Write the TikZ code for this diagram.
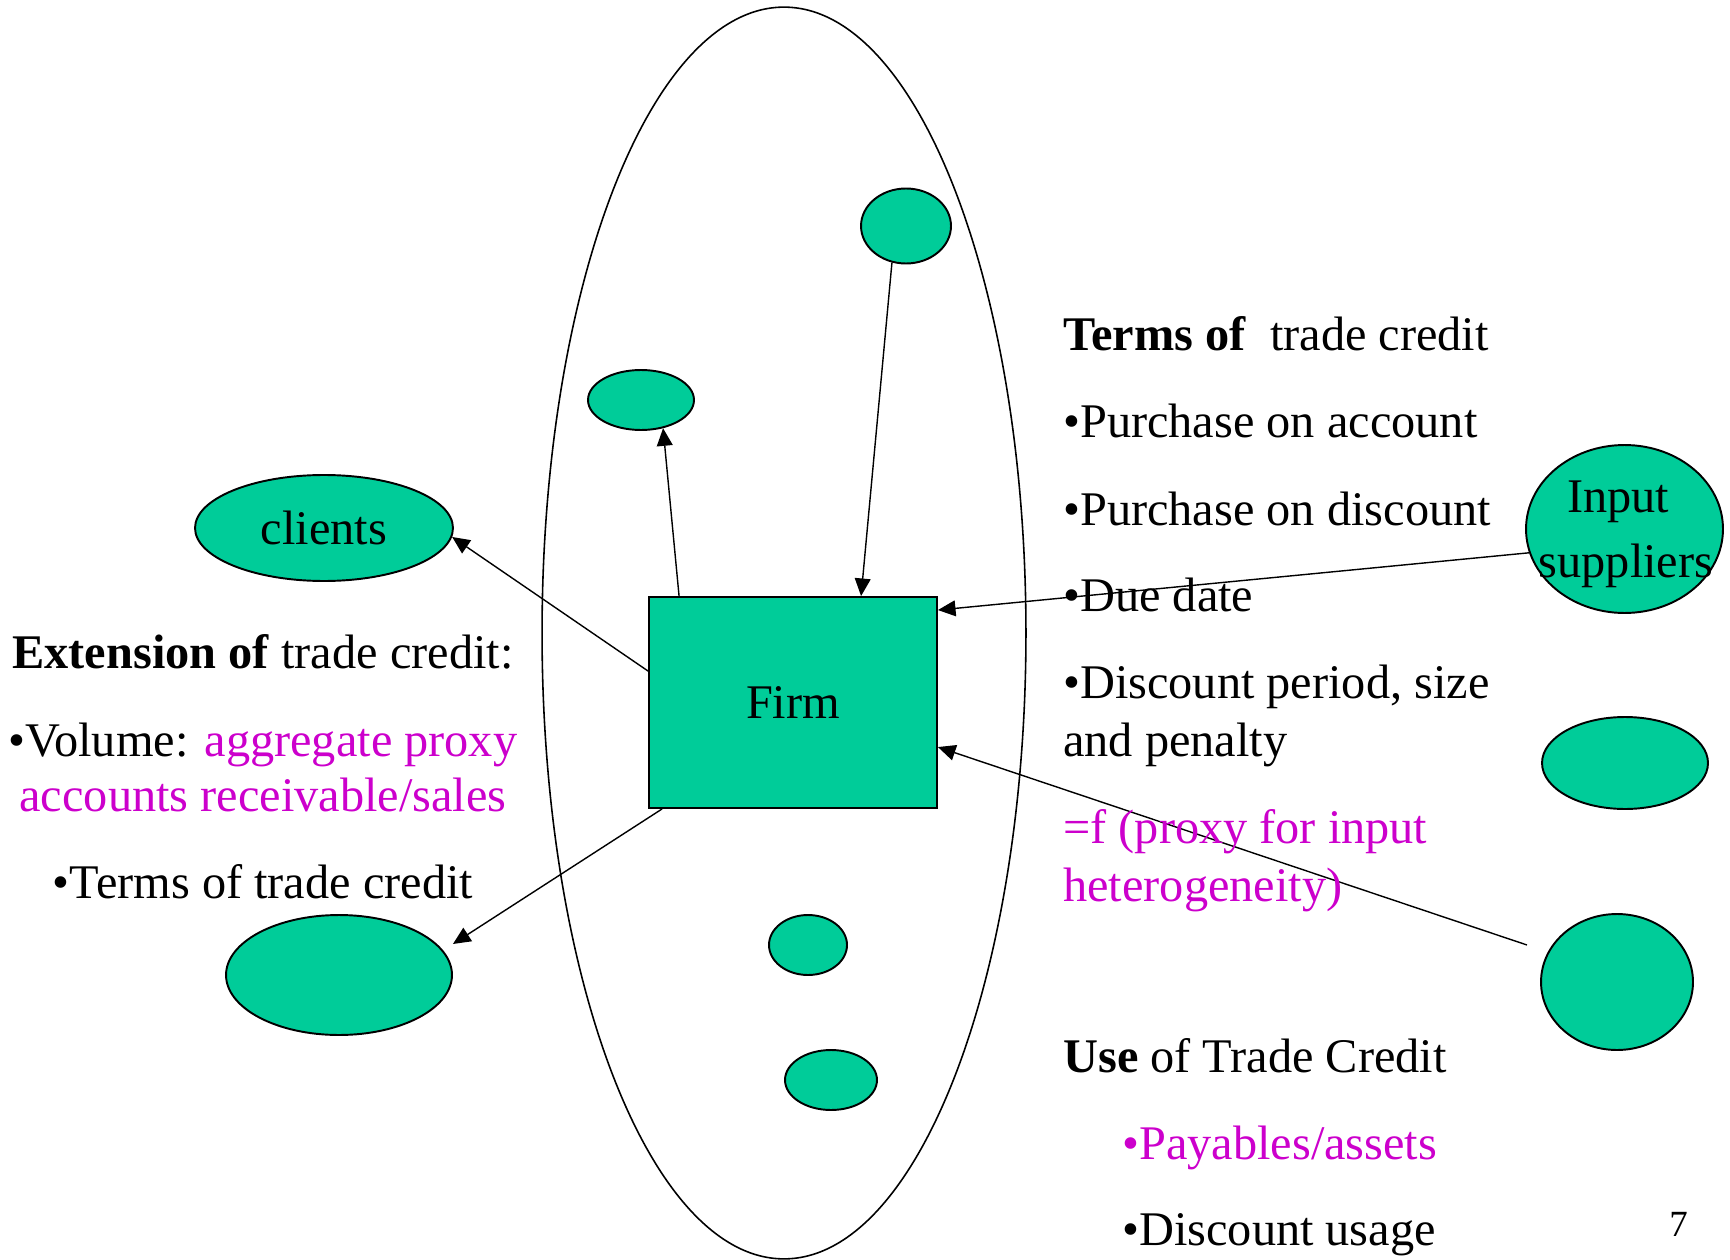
\documentclass[tikz,border=0pt]{standalone}
\usepackage{fontspec}
\setmainfont{Liberation Serif}
\usetikzlibrary{shapes.geometric, arrows.meta, calc}

\definecolor{firmgreen}{RGB}{0,204,153}
\definecolor{proxypink}{RGB}{204,0,204}

\begin{document}
\begin{tikzpicture}[
    x=0.02cm, y=-0.02cm,
    every node/.style={font=\fontsize{27.5}{33}\selectfont},
    blob/.style={ellipse, draw, line width=1.1pt, fill=firmgreen, inner sep=0pt},
    firmbox/.style={rectangle, draw, line width=1.1pt, fill=firmgreen, inner sep=0pt, minimum width=5.76cm, minimum height=4.22cm},
    txt/.style={anchor=base west, inner sep=0pt},
    ctxt/.style={anchor=base, inner sep=0pt},
    arrow/.style={line width=0.8pt, -{Triangle[length=10pt,width=9pt]}}
]
\useasboundingbox (0,0) rectangle (1730,1260);

% the market around the firm
\node (market) [ellipse, draw, line width=0.9pt, inner sep=0pt, minimum width=9.68cm, minimum height=25.04cm] at (784,633) {};

\node (firm) [firmbox] at (793,702.5) {Firm};
\node (topdot) [blob, minimum width=1.8cm, minimum height=1.5cm] at (906,226) {};
\node (sidedot) [blob, minimum width=2.12cm, minimum height=1.2cm] at (641,400) {};
\node (lowdot) [blob, minimum width=1.56cm, minimum height=1.2cm] at (808,945) {};
\node (botdot) [blob, minimum width=1.84cm, minimum height=1.2cm] at (831,1080) {};

% left side
\node (clients) [blob, minimum width=5.16cm, minimum height=2.12cm] at (324,528) {clients};
\node (buyers) [blob, minimum width=4.52cm, minimum height=2.4cm] at (339,975) {};

% right side
\node (input) [blob, minimum width=3.94cm, minimum height=3.36cm] at (1624.5,529) {};
\node (inputa) [ctxt] at (1618,512) {Input};
\node (inputb) [ctxt] at (1626,577) {suppliers};
\node (rightmid) [blob, minimum width=3.32cm, minimum height=1.84cm] at (1625,763) {};
\node (rightlow) [blob, minimum width=3.04cm, minimum height=2.72cm] at (1617,982) {};
\coordinate (lowfree) at (1527,945);

% connectors
\draw [arrow] ($(firm.north west)+(31,0)$) -- (sidedot.-52);
\draw [arrow] (topdot.-111) -- ($(firm.north west)+(213,0)$);
\draw [arrow] ($(firm.north west)+(0,75)$) -- (clients.-4);
\draw [arrow] ($(firm.south west)+(14,0)$) -- ($(buyers.east)+(0,-31)$);
\draw [arrow] (input.-166) -- ($(firm.north east)+(0,14)$);
\draw [arrow] (lowfree) -- ($(firm.north east)+(0,151)$);

% extension of trade credit
\node (ext) [ctxt] at (263,668) {\textbf{Extension of} trade credit:};
\node (vol) [ctxt] at (263,756) {•Volume: \textcolor{proxypink}{aggregate proxy}};
\node (volb) [ctxt, text=proxypink] at (263,811) {accounts receivable/sales};
\node (extterms) [ctxt] at (263,898) {•Terms of trade credit};

% terms of trade credit
\node (terms) [txt] at (1063,351) {\textbf{Terms of}\ \ trade credit};
\node (acc) [txt] at (1063,437) {•Purchase on account};
\node (disc) [txt] at (1063,525) {•Purchase on discount};
\node (due) [txt] at (1063,611) {•Due date};
\node (period) [txt] at (1063,698) {•Discount period, size};
\node (penalty) [txt] at (1063,756) {and penalty};
\node (fa) [txt, text=proxypink] at (1063,843) {=f (proxy for input};
\node (fb) [txt, text=proxypink] at (1063,901) {heterogeneity)};

% use of trade credit
\node (use) [txt] at (1063,1072) {\textbf{Use} of Trade Credit};
\node (pay) [txt, text=proxypink] at (1122,1159) {•Payables/assets};
\node (usage) [txt] at (1122,1245) {•Discount usage};

\node (page) [txt, font=\fontsize{21}{25}\selectfont] at (1669,1236) {7};
\end{tikzpicture}
\end{document}
